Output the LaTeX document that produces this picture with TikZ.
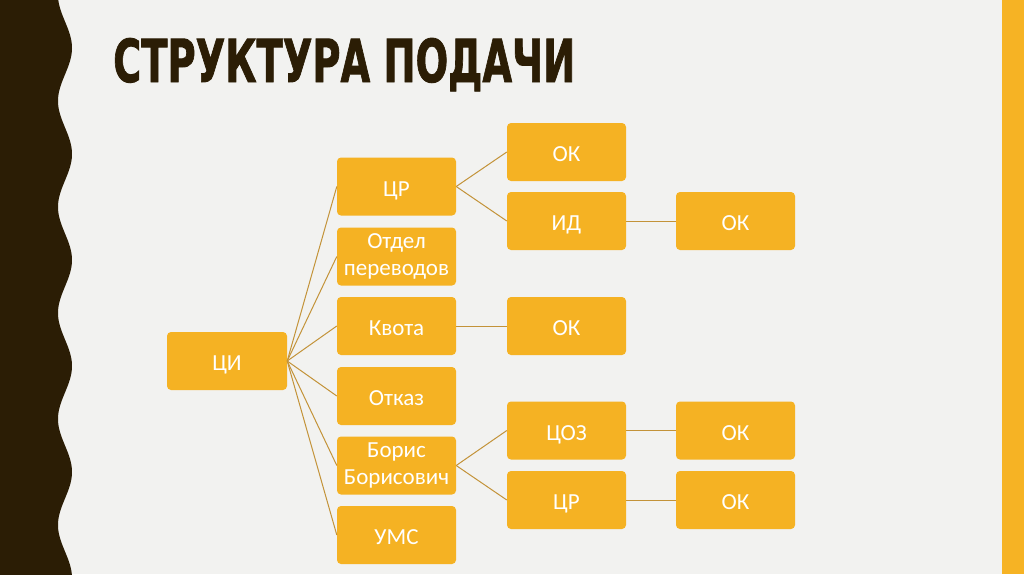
\documentclass[tikz,border=0pt]{standalone}
\usepackage{fontspec}
\usepackage{graphicx}
\setmainfont{Carlito}
\newfontfamily\titlefont[FakeBold=1.5]{DejaVu Sans Condensed Bold}
\definecolor{bg}{HTML}{F2F2F0}
\definecolor{dark}{HTML}{2B1D05}
\definecolor{gold}{HTML}{F5B223}
\definecolor{band}{HTML}{F6B324}
\definecolor{link}{HTML}{C39339}
\tikzset{
  box/.style={fill=gold, rounded corners=4pt, minimum width=119pt, minimum height=58pt,
    inner sep=0pt, text=white, align=center, font=\fontsize{23}{27}\selectfont},
  onebox/.style={box, text height=19pt, text depth=0pt},
  conn/.style={draw=link, line width=1pt}
}
\begin{document}
\begin{tikzpicture}[x=1pt,y=-1pt]
\useasboundingbox (0,0) rectangle (1024,574);
\fill[bg] (0,0) rectangle (1024,574);
\fill[band] (1002,0) rectangle (1024,574);
\fill[dark] (0,-2) -- plot[domain=-2:576, samples=300] ({65+7*cos(3.39623*(\x-48))}, \x) -- (0,576) -- cycle;
\node[anchor=base west, inner sep=0pt, text=dark] (title) at (113,82)
  {\resizebox{462pt}{44pt}{\titlefont СТРУКТУРА ПОДАЧИ}};
% column 1
\node[onebox, minimum width=120pt] (ci) at (227,361) {ЦИ};
% column 2
\node[onebox] (cr1) at (396.5,186.5) {ЦР};
\node[box] (otd) at (396.5,256.5) {Отдел\\переводов};
\node[onebox] (kv) at (396.5,326) {Квота};
\node[onebox] (otk) at (396.5,396) {Отказ};
\node[box] (bb) at (396.5,465.5) {Борис\\Борисович};
\node[onebox] (ums) at (396.5,535) {УМС};
% column 3
\node[onebox] (ok1) at (566.5,152) {ОК};
\node[onebox] (id) at (566.5,221) {ИД};
\node[onebox] (ok3) at (566.5,326) {ОК};
\node[onebox] (coz) at (566.5,430.5) {ЦОЗ};
\node[onebox] (cr2) at (566.5,500) {ЦР};
% column 4
\node[onebox] (ok2) at (735.5,221) {ОК};
\node[onebox] (ok4) at (735.5,430.5) {ОК};
\node[onebox] (ok5) at (735.5,500) {ОК};
% connectors
\foreach \t in {cr1,otd,kv,otk,bb,ums} \draw[conn] (ci.east) -- (\t.west);
\draw[conn] (cr1.east) -- (ok1.west);
\draw[conn] (cr1.east) -- (id.west);
\draw[conn] (id.east) -- (ok2.west);
\draw[conn] (kv.east) -- (ok3.west);
\draw[conn] (bb.east) -- (coz.west);
\draw[conn] (bb.east) -- (cr2.west);
\draw[conn] (coz.east) -- (ok4.west);
\draw[conn] (cr2.east) -- (ok5.west);
\end{tikzpicture}
\end{document}
